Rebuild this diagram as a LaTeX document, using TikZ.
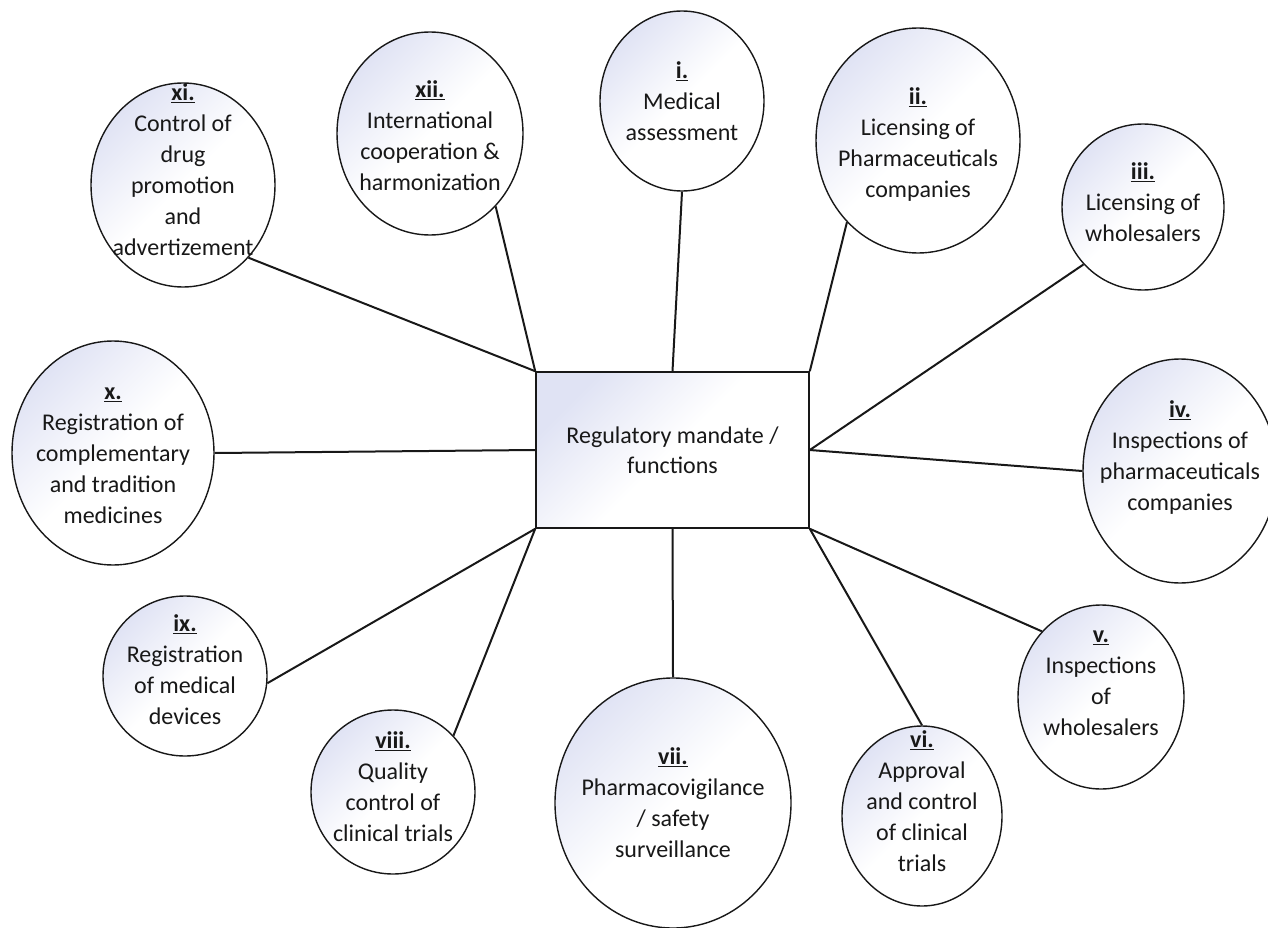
\documentclass[tikz,border=0pt]{standalone}
\usepackage{fontspec}
\setmainfont{Carlito}
\usepackage{tikz}
\usetikzlibrary{shapes.geometric}
\definecolor{lavender}{RGB}{224,227,244}
\definecolor{inkgray}{RGB}{24,24,24}
\tikzset{
  func/.style 2 args={ellipse, draw=inkgray, line width=1.4pt, top color=lavender, bottom color=white, middle color=white, shading angle=45, inner sep=0pt, minimum width=#1, minimum height=#2},
  functext/.style={font=\fontsize{24}{31}\selectfont, align=center, text=inkgray},
  hub/.style={rectangle, draw=inkgray, line width=1.6pt, top color=lavender, bottom color=white, middle color=white, shading angle=45, minimum width=273pt, minimum height=156pt, font=\fontsize{24}{30}\selectfont, align=center, text=inkgray},
  link/.style={draw=inkgray, line width=2pt}
}

\begin{document}
\begin{tikzpicture}[x=1pt,y=-1pt]
\useasboundingbox (0,0) rectangle (1268,928);
\node[func={164pt}{180pt}, label={[functext]center:{\underline{\textbf{i.}}\\Medical\\assessment}}] (med) at (682,101) {};
\node[func={204pt}{225pt}, label={[functext,yshift=-4pt]center:{\underline{\textbf{ii.}}\\Licensing of\\Pharmaceuticals\\companies}}] (licpharm) at (918,140.5) {};
\node[func={162pt}{166pt}, label={[functext,yshift=5pt]center:{\underline{\textbf{iii.}}\\Licensing of\\wholesalers}}] (licwhole) at (1143,207) {};
\node[func={194pt}{224pt}, label={[functext,yshift=13pt]center:{\underline{\textbf{iv.}}\\Inspections of\\pharmaceuticals\\companies}}] (insppharm) at (1180,471) {};
\node[func={166pt}{184pt}, label={[functext,yshift=14pt]center:{\underline{\textbf{v.}}\\Inspections\\of\\wholesalers}}] (inspwhole) at (1101,697) {};
\node[func={160pt}{180pt}, label={[functext,yshift=15pt]center:{\underline{\textbf{vi.}}\\Approval\\and control\\of clinical\\trials}}] (trials) at (922,816) {};
\node[func={236pt}{250pt}, label={[functext]center:{\underline{\textbf{vii.}}\\Pharmacovigilance\\/ safety\\surveillance}}] (pv) at (673,803) {};
\node[func={164pt}{164pt}, label={[functext,yshift=5pt]center:{\underline{\textbf{viii.}}\\Quality\\control of\\clinical trials}}] (qc) at (393,792) {};
\node[func={164pt}{160pt}, label={[functext,yshift=6pt]center:{\underline{\textbf{ix.}}\\Registration\\of medical\\devices}}] (devices) at (185,676) {};
\node[func={202pt}{224pt}, label={[functext,yshift=-3pt]center:{\underline{\textbf{x.}}\\Registration of\\complementary\\and tradition\\medicines}}] (trad) at (113,453) {};
\node[func={184pt}{204pt}, label={[functext,yshift=15pt]center:{\underline{\textbf{xi.}}\\Control of\\drug\\promotion\\and\\advertizement}}] (promo) at (183,185) {};
\node[func={186pt}{203pt}, label={[functext,yshift=-2pt]center:{\underline{\textbf{xii.}}\\International\\cooperation \&\\harmonization}}] (intl) at (430,133.5) {};
\node[hub] (mandate) at (672.5,450) {Regulatory mandate /\\functions};
\draw[link] (med.south) -- (mandate.north);
\draw[link] (licpharm.229) -- (mandate.north east);
\draw[link] (licwhole.224) -- (mandate.east);
\draw[link] (insppharm.west) -- (mandate.east);
\draw[link] (inspwhole.132) -- (mandate.south east);
\draw[link] (trials.north) -- (mandate.south east);
\draw[link] (pv.north) -- (mandate.south);
\draw[link] (qc.43) -- (mandate.south west);
\draw[link] (devices.-5) -- (mandate.south west);
\draw[link] (trad.east) -- (mandate.west);
\draw[link] (promo.-48) -- (mandate.north west);
\draw[link] (intl.-48) -- (mandate.north west);
\end{tikzpicture}
\end{document}
